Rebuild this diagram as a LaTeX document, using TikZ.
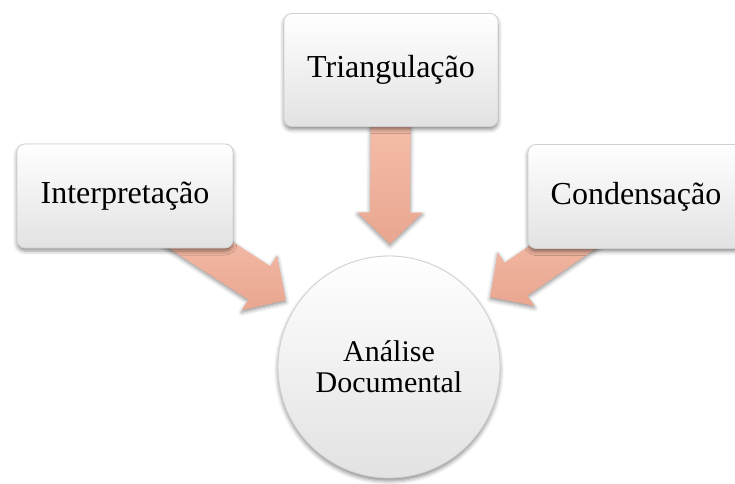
\documentclass[tikz,border=0pt]{standalone}
\usepackage{fontspec}
\setmainfont{Liberation Serif}
\usetikzlibrary{positioning,shadows.blur}
\definecolor{arrowtop}{RGB}{246,192,172}
\definecolor{arrowbot}{RGB}{233,166,144}
\definecolor{boxline}{RGB}{208,208,208}
\definecolor{boxbot}{RGB}{226,226,226}
\pgfdeclarelayer{back}
\pgfsetlayers{back,main}
% block arrow pointing from node #1 towards node #2
\newcommand{\bigarrow}[2]{%
  \pgfmathanglebetweenpoints{\pgfpointanchor{#2}{center}}{\pgfpointanchor{#1}{center}}%
  \let\arrang\pgfmathresult
  \begin{scope}[shift={(#2.center)}, rotate=\arrang]
    \path[blockarrow] (61.5pt,0pt) -- (77.25pt,16.25pt) -- (77.25pt,10pt) -- (130pt,10pt)
      -- (130pt,-10pt) -- (77.25pt,-10pt) -- (77.25pt,-16.25pt) -- cycle;
  \end{scope}}

\begin{document}
\begin{tikzpicture}[x=0.5pt, y=-0.5pt,
labelbox/.style={draw=boxline, rounded corners=4pt, top color=white, bottom color=boxbot,
  minimum width=108pt, minimum height=52pt, font=\fontsize{16}{18}\selectfont,
  blur shadow={shadow xshift=0pt, shadow yshift=-1.5pt, shadow blur radius=2pt, shadow opacity=45}},
maincircle/.style={circle, draw=boxline, top color=white, bottom color=boxbot,
  minimum size=111pt, inner sep=0pt, align=center, font=\fontsize{15}{15.5}\selectfont,
  blur shadow={shadow xshift=0pt, shadow yshift=-1.5pt, shadow blur radius=2pt, shadow opacity=45}},
blockarrow/.style={top color=arrowtop, bottom color=arrowbot,
  blur shadow={shadow xshift=0pt, shadow yshift=-1pt, shadow blur radius=2pt, shadow opacity=45}}]
\useasboundingbox (0,0) rectangle (735,483);
\node[maincircle] (doc) at (389,367) {Análise\\Documental};
\node[labelbox] (interp) at (125,196) {Interpretação};
\node[labelbox, minimum width=107pt, minimum height=56.5pt] (tri) at (391,70) {Triangulação};
\node[labelbox] (cond) at (636,196.5) {Condensação};
\begin{pgfonlayer}{back}
\bigarrow{interp}{doc}
\bigarrow{tri}{doc}
\bigarrow{cond}{doc}
\end{pgfonlayer}
\end{tikzpicture}
\end{document}
